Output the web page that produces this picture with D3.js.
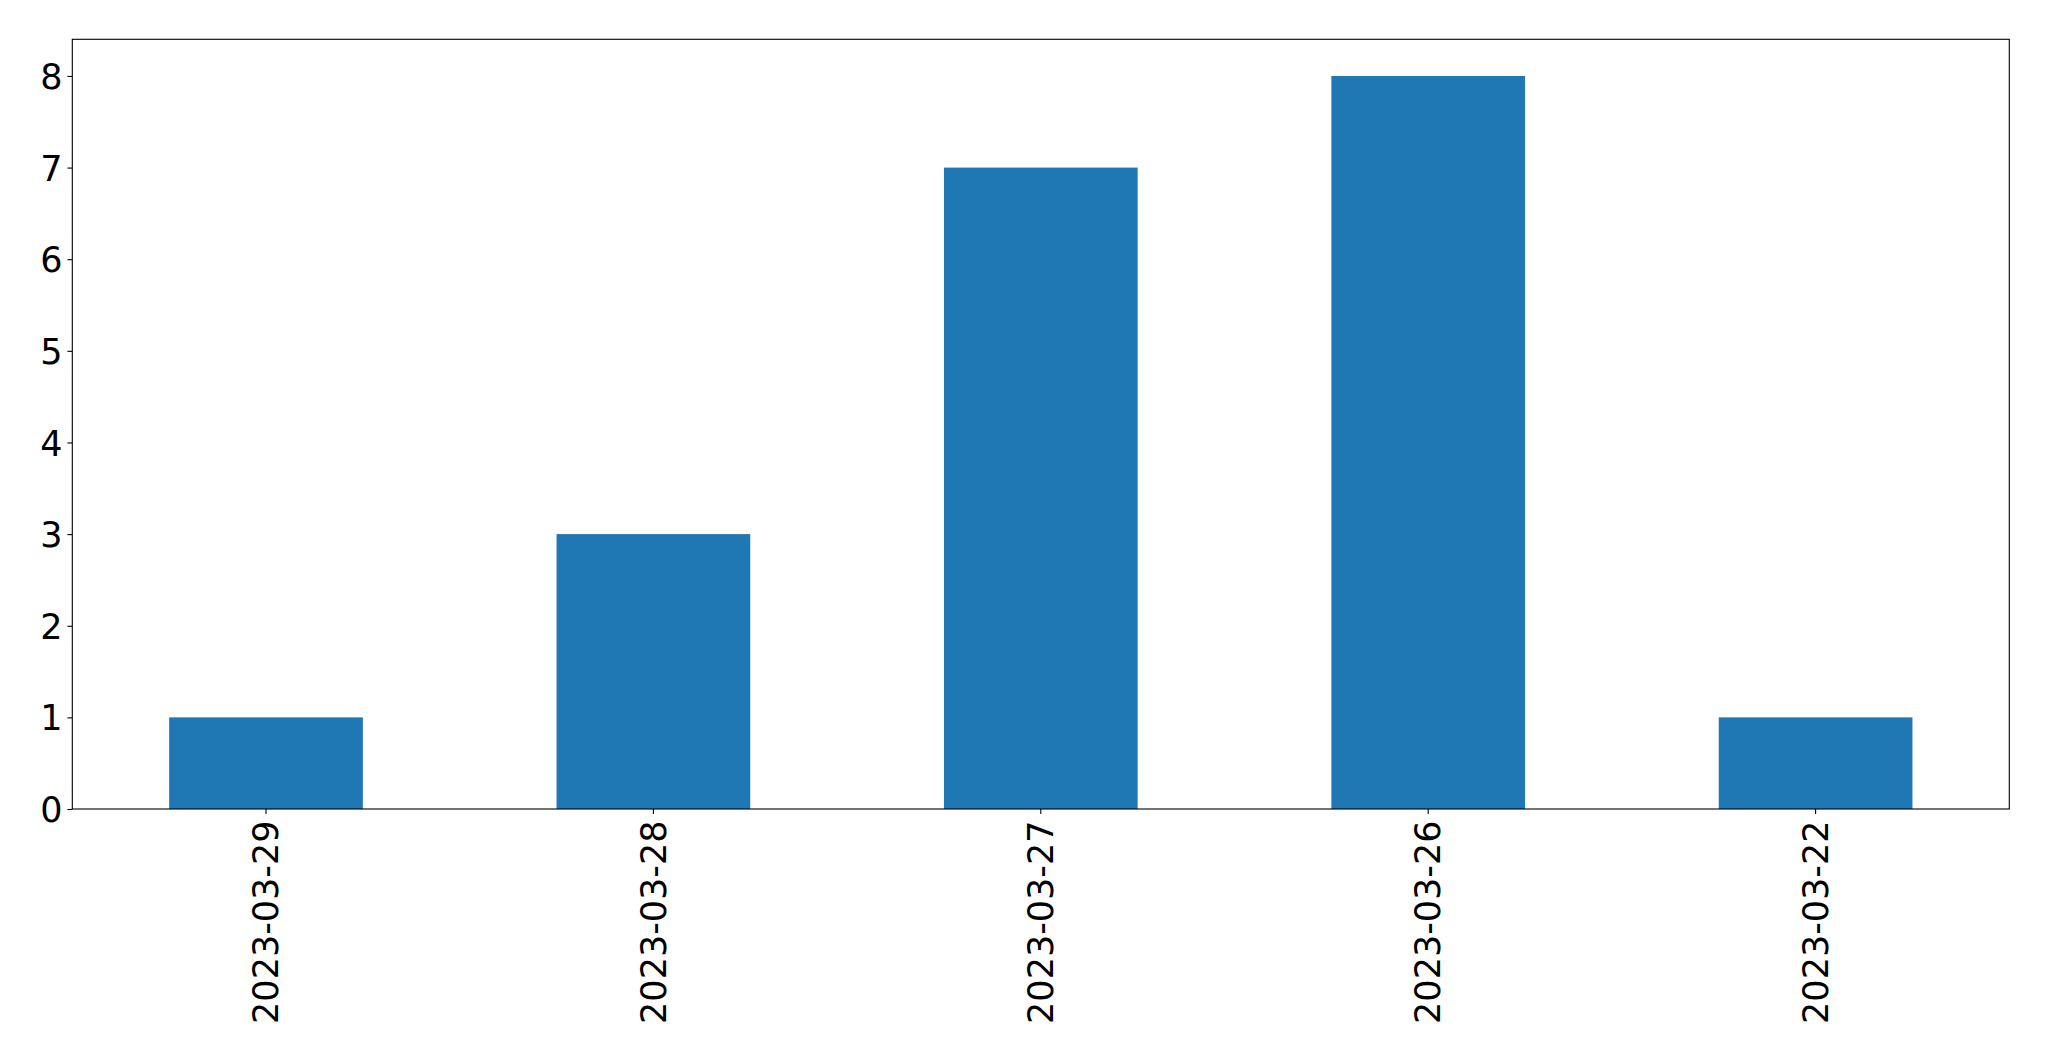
<!DOCTYPE html>
<html>
<head>
<meta charset="utf-8">
<script src="https://cdn.jsdelivr.net/npm/d3@7"></script>
<style>
  body { margin: 0; background: #fff; }
  .axis text { font-family: "DejaVu Sans", sans-serif; font-size: 35px; fill: #000; }
  .axis path, .axis line { stroke: #000; stroke-width: 1.1px; }
</style>
</head>
<body>
<svg id="chart"></svg>
<script>
// values
var dates = ["2023-03-29", "2023-03-28", "2023-03-27", "2023-03-26", "2023-03-22"];
var counts = [1, 3, 7, 8, 1];
var yTicks = [0, 1, 2, 3, 4, 5, 6, 7, 8];

var totalWidth = 2049;
var totalHeight = 1061;
var margin = { top: 39.3, right: 39.7, bottom: 252, left: 72.3 };
var width = totalWidth - margin.left - margin.right;
var height = totalHeight - margin.top - margin.bottom;

var svg = d3.select("#chart")
    .attr("width", totalWidth)
    .attr("height", totalHeight);

var g = svg.append("g")
    .attr("transform", "translate(" + margin.left + "," + margin.top + ")");

var x = d3.scaleBand().domain(dates).range([0, width]).paddingInner(0.5).paddingOuter(0.25);
var y = d3.scaleLinear().domain([0, 8.4]).range([height, 0]);

g.selectAll(".bar")
    .data(dates)
    .enter()
    .append("rect")
    .attr("class", "bar")
    .attr("x", function (d) { return x(d); })
    .attr("y", function (d, i) { return y(counts[i]); })
    .attr("width", x.bandwidth())
    .attr("height", function (d, i) { return height - y(counts[i]); })
    .attr("fill", "#1f77b4");

// frame
g.append("rect")
    .attr("width", width)
    .attr("height", height)
    .attr("fill", "none")
    .attr("stroke", "#000")
    .attr("stroke-width", 1.1);

g.append("g")
    .attr("class", "axis axis--y")
    .call(d3.axisLeft(y).tickValues(yTicks).tickFormat(d3.format("d")).tickSize(4.9).tickPadding(4.9))
    .call(function (a) { a.select(".domain").remove(); })
    .selectAll("text")
    .attr("dy", "0.36em");

g.append("g")
    .attr("class", "axis axis--x")
    .attr("transform", "translate(0," + height + ")")
    .call(d3.axisBottom(x).tickSize(4.9).tickPadding(4.9))
    .call(function (a) { a.select(".domain").remove(); })
    .selectAll("text")
    .attr("text-anchor", "end")
    .attr("dy", "0.35em")
    .attr("transform", "translate(0,11.5) rotate(-90)")
    .attr("x", 0)
    .attr("y", 0);
</script>
</body>
</html>
